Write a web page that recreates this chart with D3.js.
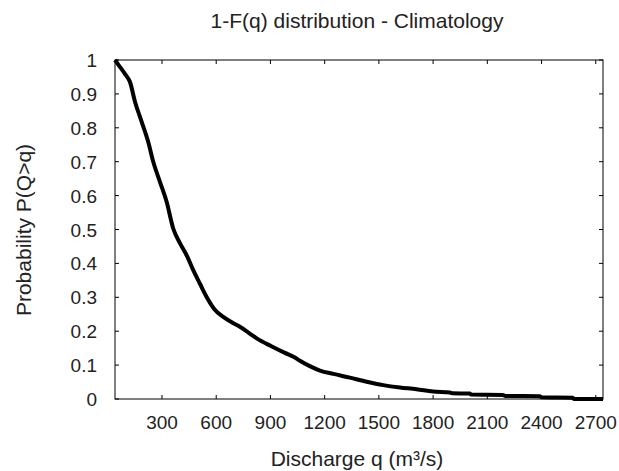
<!DOCTYPE html>
<html>
<head>
<meta charset="utf-8">
<script src="https://cdn.jsdelivr.net/npm/d3@7"></script>
<style>
  html, body { margin: 0; padding: 0; background: #fff; }
  svg { display: block; }
  text { font-family: "Liberation Sans", Arial, sans-serif; fill: #222; }
</style>
</head>
<body>
<svg id="chart" width="619" height="471"></svg>
<script>
// ---- data ----
const discharge = [40, 60, 95, 123, 151, 188, 224, 252, 289, 326, 362, 400, 440, 473, 510, 547, 590, 639, 690, 731, 780, 824, 900, 980, 1030, 1063, 1118, 1174, 1248, 1340, 1432, 1524, 1616, 1708, 1800, 1893, 1905, 2003, 2010, 2186, 2200, 2390, 2400, 2573, 2580, 2740];
const probability = [1, 0.985, 0.959, 0.935, 0.876, 0.817, 0.758, 0.699, 0.64, 0.581, 0.503, 0.459, 0.42, 0.38, 0.34, 0.301, 0.265, 0.242, 0.225, 0.213, 0.195, 0.179, 0.157, 0.136, 0.124, 0.113, 0.097, 0.084, 0.074, 0.063, 0.051, 0.041, 0.034, 0.029, 0.022, 0.019, 0.017, 0.016, 0.013, 0.012, 0.009, 0.008, 0.005, 0.004, 0.0, 0.0];
const xTicks = [300, 600, 900, 1200, 1500, 1800, 2100, 2400, 2700];
const yTicks = [0, 0.1, 0.2, 0.3, 0.4, 0.5, 0.6, 0.7, 0.8, 0.9, 1];
const yTickLabels = ["0", "0.1", "0.2", "0.3", "0.4", "0.5", "0.6", "0.7", "0.8", "0.9", "1"];
const title = "1-F(q) distribution - Climatology";
const xLabel = "Discharge q (m³/s)";
const yLabel = "Probability P(Q>q)";

// ---- layout ----
const L = 115, R = 603, T = 60, B = 399;
const svg = d3.select("#chart");

const x = d3.scaleLinear().domain([40, 2740]).range([L, R]);
const y = d3.scaleLinear().domain([0, 1]).range([B, T]);

const tickFs = 19;
const labelFs = 21;
const tickLen = 4;
const g = svg.append("g");

// tick marks (mirrored) and labels
xTicks.forEach(v => {
  g.append("line").attr("x1", x(v)).attr("x2", x(v)).attr("y1", B).attr("y2", B - tickLen)
    .attr("stroke", "#000").attr("stroke-width", 1);
  g.append("line").attr("x1", x(v)).attr("x2", x(v)).attr("y1", T).attr("y2", T + tickLen)
    .attr("stroke", "#000").attr("stroke-width", 1);
  g.append("text").attr("x", x(v)).attr("y", 429).attr("text-anchor", "middle")
    .attr("font-size", tickFs).text(v);
});
yTicks.forEach((v, i) => {
  g.append("line").attr("x1", L).attr("x2", L + tickLen).attr("y1", y(v)).attr("y2", y(v))
    .attr("stroke", "#000").attr("stroke-width", 1);
  g.append("line").attr("x1", R).attr("x2", R - tickLen).attr("y1", y(v)).attr("y2", y(v))
    .attr("stroke", "#000").attr("stroke-width", 1);
  g.append("text").attr("x", 97).attr("y", y(v) + 7).attr("text-anchor", "end")
    .attr("font-size", tickFs).text(yTickLabels[i]);
});

// frame
g.append("rect").attr("x", L).attr("y", T).attr("width", R - L).attr("height", B - T)
  .attr("fill", "none").attr("stroke", "#000").attr("stroke-width", 1);

// curve
const pts = discharge.map((d, i) => [d, probability[i]]);
g.append("path").datum(pts)
  .attr("d", d3.line().x(d => x(d[0])).y(d => y(d[1])).curve(d3.curveMonotoneX))
  .attr("fill", "none").attr("stroke", "#000").attr("stroke-width", 4)
  .attr("stroke-linejoin", "round").attr("stroke-linecap", "butt");

// titles
svg.append("text").attr("x", 357).attr("y", 28).attr("text-anchor", "middle")
  .attr("font-size", labelFs).text(title);
svg.append("text").attr("x", 357).attr("y", 466).attr("text-anchor", "middle")
  .attr("font-size", labelFs).text(xLabel);
svg.append("text").attr("transform", "translate(31,230) rotate(-90)").attr("text-anchor", "middle")
  .attr("font-size", labelFs).text(yLabel);
</script>
</body>
</html>
